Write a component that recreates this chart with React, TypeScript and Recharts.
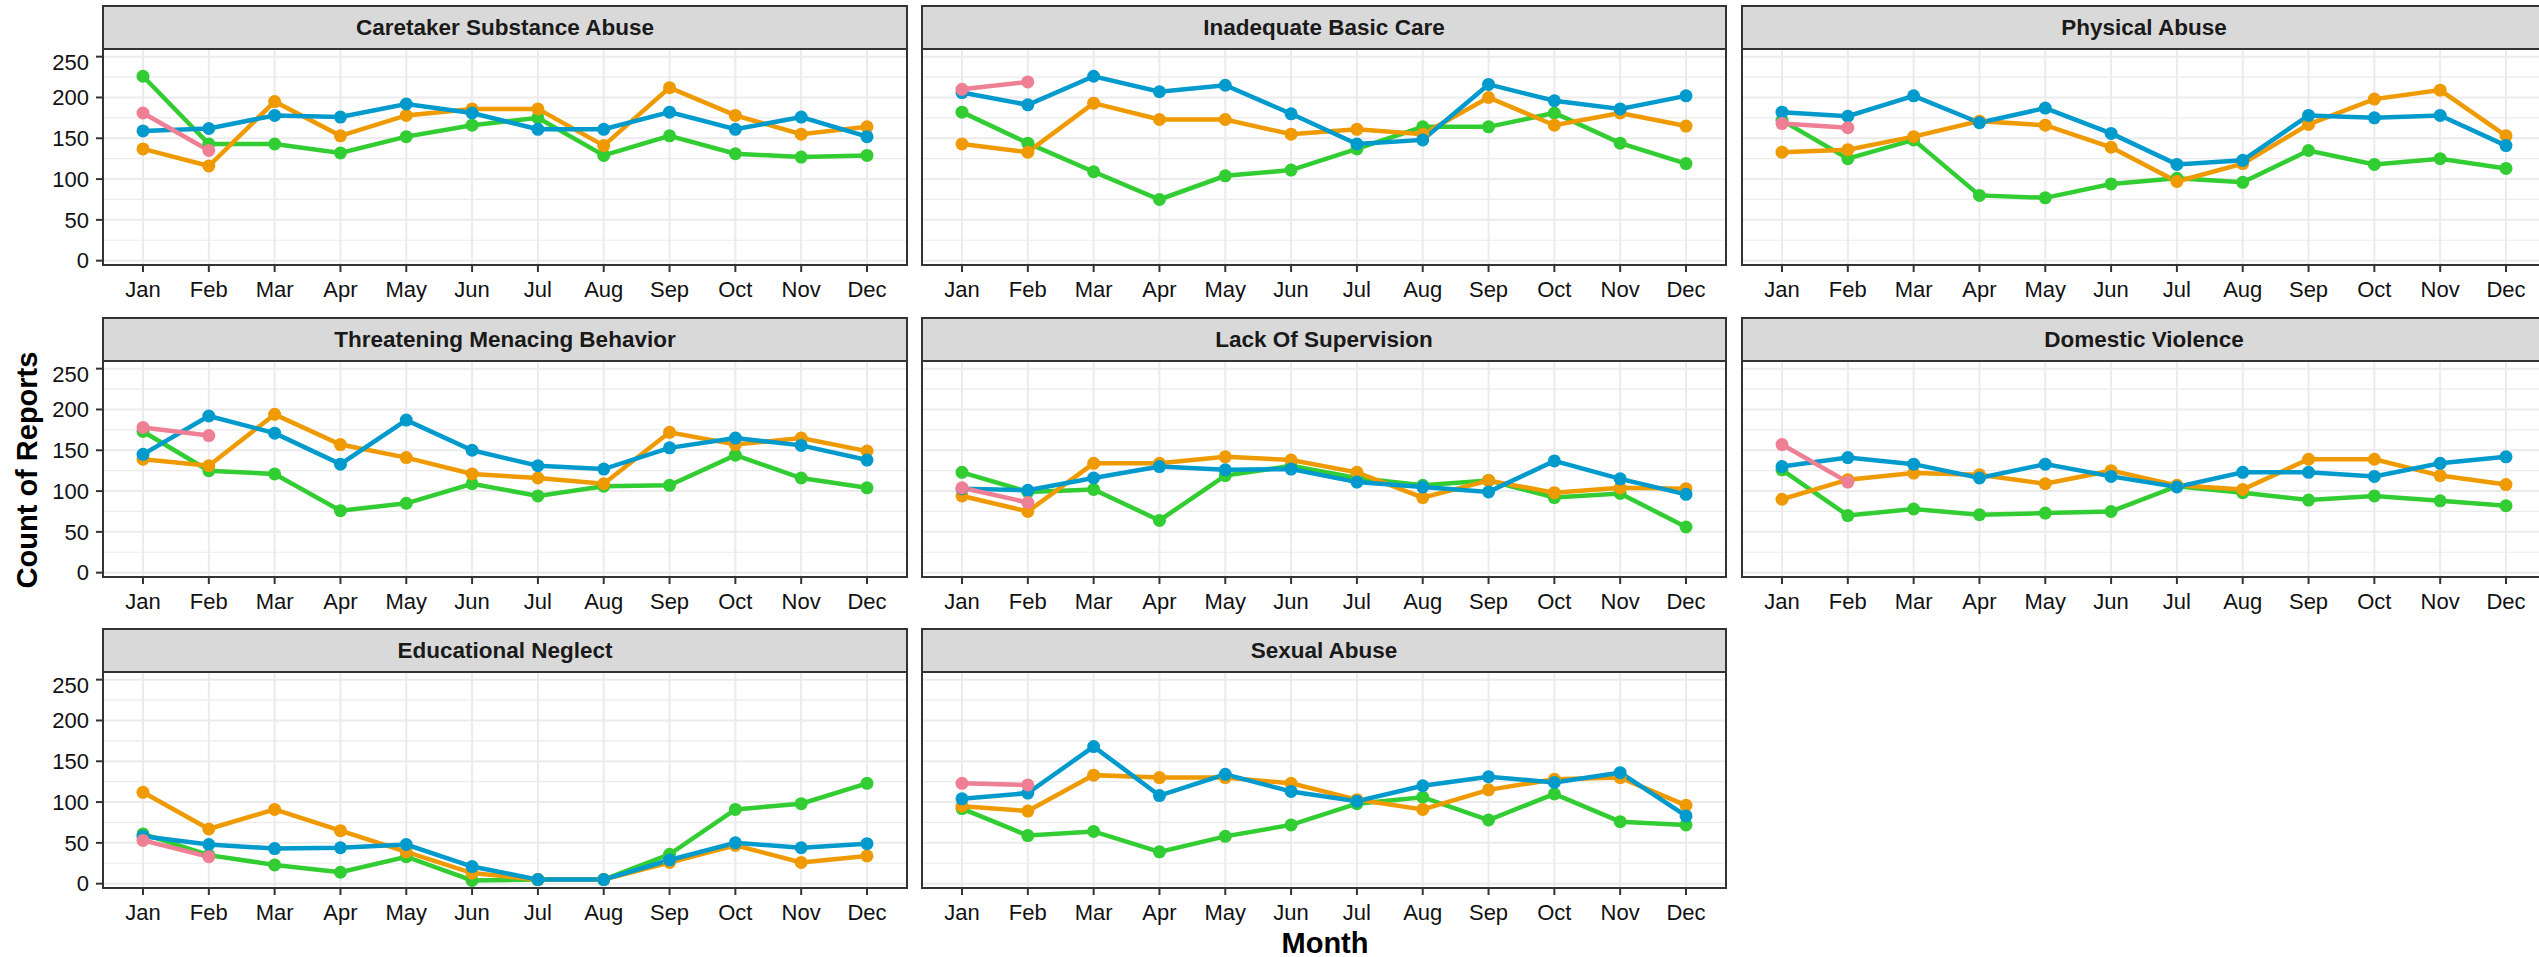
import React from "react";
import {
  LineChart,
  Line,
  XAxis,
  YAxis,
  CartesianGrid,
} from "recharts";

const months = ["Jan", "Feb", "Mar", "Apr", "May", "Jun", "Jul", "Aug", "Sep", "Oct", "Nov", "Dec"];
const yTicks = [0, 50, 100, 150, 200, 250];
const yMinor = [25, 75, 125, 175, 225];

// one array per year, per facet (pink year only has Jan/Feb)
const caretaker2021 = [226, 143, 143, 132, 152, 166, 175, 129, 153, 131, 127, 129];
const caretaker2022 = [137, 116, 195, 153, 178, 186, 186, 141, 212, 178, 155, 164];
const caretaker2023 = [159, 162, 178, 176, 192, 181, 161, 161, 182, 161, 176, 152];
const caretaker2024 = [181, 135];

const basicCare2021 = [182, 144, 109, 75, 104, 111, 137, 164, 164, 181, 144, 119];
const basicCare2022 = [143, 133, 193, 173, 173, 155, 161, 155, 200, 166, 181, 165];
const basicCare2023 = [206, 191, 226, 207, 215, 180, 143, 148, 216, 196, 186, 202];
const basicCare2024 = [210, 219];

const physical2021 = [172, 125, 148, 80, 77, 94, 101, 96, 135, 118, 125, 113];
const physical2022 = [133, 136, 152, 171, 166, 139, 97, 119, 167, 198, 209, 153];
const physical2023 = [182, 177, 202, 169, 187, 156, 118, 123, 178, 175, 178, 141];
const physical2024 = [168, 163];

const threat2021 = [173, 125, 121, 76, 85, 109, 94, 106, 107, 144, 116, 104];
const threat2022 = [139, 131, 194, 157, 141, 121, 116, 109, 172, 157, 165, 149];
const threat2023 = [145, 192, 171, 133, 187, 150, 131, 127, 153, 165, 156, 138];
const threat2024 = [178, 168];

const supervision2021 = [123, 99, 102, 64, 119, 131, 116, 107, 113, 92, 97, 56];
const supervision2022 = [94, 75, 134, 134, 142, 138, 123, 92, 113, 98, 104, 103];
const supervision2023 = [103, 101, 116, 130, 126, 127, 111, 105, 99, 137, 115, 96];
const supervision2024 = [104, 86];

const domestic2021 = [126, 70, 78, 71, 73, 75, 106, 98, 89, 94, 88, 82];
const domestic2022 = [90, 114, 122, 120, 109, 125, 107, 102, 139, 139, 119, 108];
const domestic2023 = [130, 141, 133, 116, 133, 118, 105, 123, 123, 118, 134, 142];
const domestic2024 = [157, 111];

const educational2021 = [61, 35, 23, 14, 33, 4, 5, 5, 36, 91, 98, 123];
const educational2022 = [112, 67, 91, 65, 39, 13, 5, 5, 26, 47, 26, 34];
const educational2023 = [58, 48, 43, 44, 48, 21, 5, 5, 29, 50, 44, 49];
const educational2024 = [53, 33];

const sexual2021 = [92, 59, 64, 39, 58, 72, 98, 106, 78, 110, 76, 72];
const sexual2022 = [95, 89, 133, 130, 130, 123, 103, 91, 115, 128, 130, 96];
const sexual2023 = [104, 111, 168, 108, 134, 113, 101, 120, 131, 124, 136, 83];
const sexual2024 = [123, 121];

const series = [
  { key: "y2021", color: "#32CD32" },
  { key: "y2022", color: "#EE9A00" },
  { key: "y2023", color: "#009ACD" },
  { key: "y2024", color: "#EF7F94" },
];

const panels = [
  { title: "Caretaker Substance Abuse", rows: [caretaker2021, caretaker2022, caretaker2023, caretaker2024] },
  { title: "Inadequate Basic Care", rows: [basicCare2021, basicCare2022, basicCare2023, basicCare2024] },
  { title: "Physical Abuse", rows: [physical2021, physical2022, physical2023, physical2024] },
  { title: "Threatening Menacing Behavior", rows: [threat2021, threat2022, threat2023, threat2024] },
  { title: "Lack Of Supervision", rows: [supervision2021, supervision2022, supervision2023, supervision2024] },
  { title: "Domestic Violence", rows: [domestic2021, domestic2022, domestic2023, domestic2024] },
  { title: "Educational Neglect", rows: [educational2021, educational2022, educational2023, educational2024] },
  { title: "Sexual Abuse", rows: [sexual2021, sexual2022, sexual2023, sexual2024] },
];

const FONT = '"Liberation Sans", Arial, sans-serif';
const colLeft = [103, 922, 1742];
const stripTop = [5, 317, 628];
const PLOT_W = 804;
const PLOT_H = 216;
const STRIP_H = 44;
const AXIS_W = 103;

function buildRows(rows: number[][]) {
  return months.map((m, i) => {
    const d: any = { month: m };
    series.forEach((s, j) => {
      d[s.key] = rows[j][i] ?? null;
    });
    return d;
  });
}

function Panel({ title, rows, col, row }: { title: string; rows: number[][]; col: number; row: number }) {
  const data = buildRows(rows);
  const showY = col === 0;
  const chartLeft = showY ? 0 : colLeft[col];
  const chartW = showY ? AXIS_W + PLOT_W : PLOT_W;
  const top = stripTop[row];
  const plotTop = top + STRIP_H;
  return (
    <>
      <div
        style={{
          position: "absolute",
          left: colLeft[col] - 1,
          top: top,
          width: PLOT_W + 2,
          height: STRIP_H + 1,
          boxSizing: "border-box",
          background: "#D9D9D9",
          border: "2px solid #333333",
          display: "flex",
          alignItems: "center",
          justifyContent: "center",
          fontFamily: FONT,
          fontWeight: "bold",
          fontSize: 22.5,
          color: "#1A1A1A",
        }}
      >
        {title}
      </div>
      <div style={{ position: "absolute", left: chartLeft, top: plotTop }}>
        <LineChart width={chartW} height={PLOT_H + 45} data={data} margin={{ top: 0, right: 0, bottom: 0, left: 0 }}>
          <CartesianGrid horizontalValues={yMinor} vertical={false} stroke="#EBEBEB" strokeWidth={1.2} />
          <CartesianGrid stroke="#EBEBEB" strokeWidth={2} />
          <XAxis
            dataKey="month"
            padding={{ left: 40, right: 40 }}
            height={45}
            tickSize={7}
            tickMargin={9}
            axisLine={false}
            tickLine={{ stroke: "#333333", strokeWidth: 2 }}
            tick={{ fill: "#111", fontSize: 22, fontFamily: FONT }}
            interval={0}
          />
          <YAxis
            hide={!showY}
            width={AXIS_W}
            type="number"
            domain={[-5.3, 259.4]}
            allowDataOverflow
            ticks={yTicks}
            tickSize={7}
            tickMargin={7}
            axisLine={false}
            tickLine={{ stroke: "#333333", strokeWidth: 2 }}
            tick={{ fill: "#111", fontSize: 22, fontFamily: FONT }}
          />
          {series.map((s) => (
            <Line
              key={s.key}
              dataKey={s.key}
              stroke={s.color}
              strokeWidth={4.5}
              dot={{ r: 6.5, fill: s.color, stroke: s.color, strokeWidth: 0 }}
              activeDot={false}
              isAnimationActive={false}
            />
          ))}
        </LineChart>
      </div>
      <div
        style={{
          position: "absolute",
          left: colLeft[col] - 1,
          top: plotTop - 1,
          width: PLOT_W + 2,
          height: PLOT_H + 2,
          boxSizing: "border-box",
          border: "2px solid #333333",
          pointerEvents: "none",
        }}
      />
    </>
  );
}

export default function App() {
  return (
    <div
      style={{
        position: "absolute",
        left: 0,
        top: 0,
        width: 2539,
        height: 957,
        overflow: "hidden",
        background: "#fff",
        fontFamily: FONT,
      }}
    >
      {panels.map((p, i) => (
        <Panel key={p.title} title={p.title} rows={p.rows} col={i % 3} row={Math.floor(i / 3)} />
      ))}
      <div
        style={{
          position: "absolute",
          left: 27,
          top: 470,
          transform: "translate(-50%, -50%) rotate(-90deg)",
          whiteSpace: "nowrap",
          fontWeight: "bold",
          fontSize: 29,
          color: "#000",
        }}
      >
        Count of Reports
      </div>
      <div
        style={{
          position: "absolute",
          left: 1325,
          top: 943,
          transform: "translate(-50%, -50%)",
          whiteSpace: "nowrap",
          fontWeight: "bold",
          fontSize: 29,
          color: "#000",
        }}
      >
        Month
      </div>
    </div>
  );
}
